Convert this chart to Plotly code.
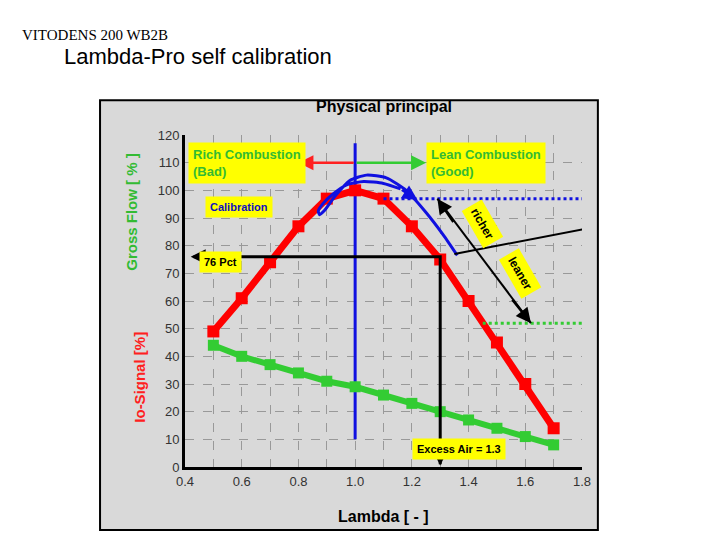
import plotly.graph_objects as go

# data
lam = [0.5, 0.6, 0.7, 0.8, 0.9, 1.0, 1.1, 1.2, 1.3, 1.4, 1.5, 1.6, 1.7]
gross_flow = [49, 61, 74, 87, 97, 100, 97, 87, 75, 60, 45, 30, 14]
io_signal = [44, 40, 37, 34, 31, 29, 26, 23, 20, 17, 14, 11, 8]

calib_x = [1.16, 1.1, 1.03, 0.97, 0.92, 0.885, 0.87, 0.875, 0.89, 0.93, 0.98,
           1.04, 1.11, 1.18, 1.25, 1.31, 1.36]
calib_y = [100.5, 102.5, 103.2, 102, 98.5, 95, 92.5, 91.2, 92.5, 98, 103.5,
           105.5, 104.5, 100, 92, 84, 76.5]

x_ticks = [0.4, 0.5, 0.6, 0.7, 0.8, 0.9, 1.0, 1.1, 1.2, 1.3, 1.4, 1.5, 1.6, 1.7, 1.8]
x_labels = ["0.4", "", "0.6", "", "0.8", "", "1.0", "", "1.2", "", "1.4", "", "1.6", "", "1.8"]
y_ticks = list(range(0, 130, 10))

fig = go.Figure()

# gray frame
fig.add_shape(type="rect", xref="paper", yref="paper", x0=-0.214, x1=1.04, y0=-0.19, y1=1.105,
              fillcolor="#d9d9d9", line=dict(color="black", width=2), layer="below")

fig.add_trace(go.Scatter(x=[1.0, 1.0], y=[10, 117], mode="lines",
                         line=dict(color="#1010e0", width=3)))
fig.add_trace(go.Scatter(x=lam, y=io_signal, mode="lines+markers",
                         line=dict(color="#33cc33", width=6),
                         marker=dict(symbol="square", size=11, color="#33cc33")))
fig.add_trace(go.Scatter(x=lam, y=gross_flow, mode="lines+markers",
                         line=dict(color="#ff0000", width=7),
                         marker=dict(symbol="square", size=12, color="#ff0000")))
fig.add_trace(go.Scatter(x=calib_x, y=calib_y, mode="lines", line_shape="spline",
                         line=dict(color="#1010e0", width=3, smoothing=0.6)))
# dotted guides
fig.add_trace(go.Scatter(x=[1.1, 1.86], y=[97, 97], mode="lines", cliponaxis=False,
                         line=dict(color="#1010e0", width=3, dash="dot")))
fig.add_trace(go.Scatter(x=[1.45, 1.86], y=[52, 52], mode="lines", cliponaxis=False,
                         line=dict(color="#33cc33", width=3, dash="dot")))
# black guides
fig.add_trace(go.Scatter(x=[0.43, 1.3, 1.3], y=[76, 76, 1], mode="lines",
                         line=dict(color="black", width=3)))
fig.add_trace(go.Scatter(x=[1.35, 1.86], y=[77, 87], mode="lines", cliponaxis=False,
                         line=dict(color="black", width=2)))
fig.add_trace(go.Scatter(x=[1.29, 1.62], y=[97, 52], mode="lines",
                         line=dict(color="black", width=2)))

arrows = [
    (1.0, 110, 0.8, 110, "#ff2020"), (1.0, 110, 1.25, 110, "#33cc33"),
    (0.5, 76, 0.42, 76, "black"), (1.3, 5, 1.3, 0.5, "black"),
    (1.55, 61, 1.62, 52, "black"), (1.35, 88, 1.29, 97, "black"),
    (1.16, 100.5, 1.22, 96.5, "#1010e0"),
]
for ax_, ay_, x_, y_, c in arrows:
    fig.add_annotation(x=x_, y=y_, ax=ax_, ay=ay_, axref="x", ayref="y", text="",
                       showarrow=True, arrowhead=2, arrowsize=1.2, arrowwidth=2.5, arrowcolor=c)

boxes = [
    (0.41, 110, "Rich Combustion<br>(Bad)", "#33bb33", 13, "left", 0),
    (1.25, 110, "Lean Combustion<br>(Good)", "#33bb33", 13, "left", 0),
    (0.47, 94, "Calibration", "#1010c0", 11, "left", 0),
    (0.45, 74, "76 Pct", "black", 11, "left", 0),
    (1.2, 6.5, "Excess Air = 1.3", "black", 11, "left", 0),
    (1.45, 88, "richer", "black", 12, "center", 60),
    (1.58, 70, "leaner", "black", 12, "center", 60),
]
for x_, y_, t, c, s, al, rot in boxes:
    fig.add_annotation(x=x_, y=y_, text="<b>" + t + "</b>", showarrow=False, xanchor=al,
                       align="left", bgcolor="#ffff00", borderpad=4, textangle=rot,
                       font=dict(family="Liberation Sans", size=s, color=c))

texts = [
    (0.5, 1.085, "<b>Physical principal</b>", "black", 16, 0),
    (-0.135, 0.77, "<b>Gross Flow [ % ]</b>", "#33bb33", 15, -90),
    (-0.115, 0.27, "<b>Io-Signal [%]</b>", "#ff2020", 15, -90),
    (0.5, -0.15, "<b>Lambda [ - ]</b>", "black", 16, 0),
]
for x_, y_, t, c, s, rot in texts:
    fig.add_annotation(x=x_, y=y_, xref="paper", yref="paper", text=t, showarrow=False,
                       textangle=rot, xanchor="center", yanchor="middle",
                       font=dict(family="Liberation Sans", size=s, color=c))

fig.add_annotation(x=-0.415, y=1.3, xref="paper", yref="paper", text="VITODENS 200 WB2B",
                   showarrow=False, xanchor="left", yanchor="middle",
                   font=dict(family="Liberation Serif", size=15, color="black"))
fig.add_annotation(x=-0.31, y=1.235, xref="paper", yref="paper", text="Lambda-Pro self calibration",
                   showarrow=False, xanchor="left", yanchor="middle",
                   font=dict(family="Liberation Sans", size=22, color="black"))

fig.update_layout(
    width=720, height=540, showlegend=False,
    margin=dict(l=177, r=146, t=127, b=81),
    paper_bgcolor="white", plot_bgcolor="#d9d9d9",
    font=dict(family="Liberation Sans", size=13, color="#333333"),
    xaxis=dict(range=[0.4, 1.8], tickvals=x_ticks, ticktext=x_labels, showgrid=True,
               gridcolor="#999999", griddash="dash", gridwidth=1, zeroline=False,
               showline=True, linecolor="black", linewidth=3, ticks=""),
    yaxis=dict(range=[0, 120], tickvals=y_ticks, showgrid=True,
               gridcolor="#999999", griddash="dash", gridwidth=1, zeroline=False,
               showline=True, linecolor="black", linewidth=3, ticks=""),
)

fig.write_html("out.html")
